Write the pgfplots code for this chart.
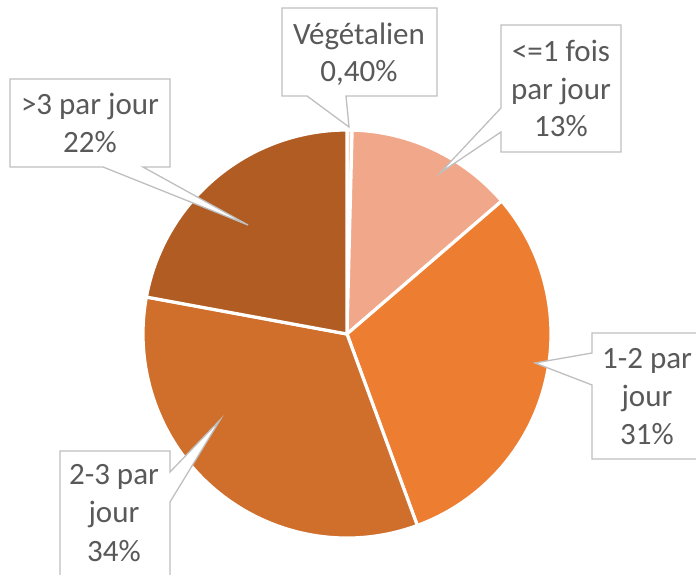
\documentclass[border=0pt]{standalone}
\usepackage{fontspec}
\setmainfont{Carlito}
\usepackage{pgfplots}
\usepackage{pgfplotstable}
\pgfplotsset{compat=1.18}
\definecolor{cveg}{HTML}{F8CFB8}
\definecolor{cle1}{HTML}{F1A88A}
\definecolor{conetwo}{HTML}{ED7D31}
\definecolor{ctwothree}{HTML}{D06E2C}
\definecolor{cgt3}{HTML}{B15C22}
\definecolor{txt}{HTML}{595959}
\definecolor{bord}{HTML}{BFBFBF}
\pgfplotstableread{
name value col
veg 0.4 cveg
le1 13.3 cle1
a12 30.7 conetwo
a23 33.5 ctwothree
gt3 22.1 cgt3
}\piedata
\begin{document}
\begin{tikzpicture}
\useasboundingbox (0,0) rectangle (696pt,575pt);
\clip (0,0) rectangle (696pt,575pt);
\begin{axis}[
  at={(0,0)}, anchor=south west,
  scale only axis, width=696pt, height=575pt,
  xmin=0, xmax=696, ymin=-575, ymax=0,
  enlargelimits=false, hide axis, clip=false,
]
\pgfplotsextra{
  \def\cum{0}
  \pgfplotsforeachungrouped \i in {0,...,4}{
    \pgfplotstablegetelem{\i}{value}\of\piedata \let\sval\pgfplotsretval
    \pgfplotstablegetelem{\i}{col}\of\piedata \let\slicecol\pgfplotsretval
    \pgfmathsetmacro\aS{90-3.6*\cum}
    \pgfmathsetmacro\cum{\cum+\sval}
    \pgfmathsetmacro\aE{90-3.6*\cum}
    \fill[fill=\slicecol, draw=white, line width=3.2pt, line join=round]
      (axis cs:347,-334) -- ++(\aS:204pt) arc[start angle=\aS, end angle=\aE, radius=204pt] -- cycle;
  }
  \begin{scope}[fill=white, draw=bord, line width=1.3pt, line join=miter]
  \filldraw (axis cs:282,-8) -- (axis cs:437,-8) -- (axis cs:437,-96) -- (axis cs:346,-96) -- (axis cs:349,-127) -- (axis cs:307,-96) -- (axis cs:282,-96) -- cycle;
  \filldraw (axis cs:501,-25) -- (axis cs:621,-25) -- (axis cs:621,-152) -- (axis cs:501,-152) -- (axis cs:501,-132) -- (axis cs:440,-173) -- (axis cs:501,-108) -- cycle;
  \filldraw (axis cs:10,-79) -- (axis cs:170,-79) -- (axis cs:170,-167) -- (axis cs:143,-167) -- (axis cs:248,-225) -- (axis cs:103,-167) -- (axis cs:10,-167) -- cycle;
  \filldraw (axis cs:592,-333) -- (axis cs:702,-333) -- (axis cs:702,-459) -- (axis cs:592,-459) -- (axis cs:592,-385) -- (axis cs:535,-363) -- (axis cs:592,-353) -- cycle;
  \filldraw (axis cs:60,-451) -- (axis cs:170,-451) -- (axis cs:170,-472) -- (axis cs:220,-420) -- (axis cs:170,-502) -- (axis cs:170,-600) -- (axis cs:60,-600) -- cycle;
  \end{scope}
  \begin{scope}[every node/.style={anchor=base, text=txt, font=\fontsize{31}{37}\selectfont, inner sep=0pt}]
  \node at (axis cs:359,-45) {Végétalien};
  \node at (axis cs:359,-82) {0,40\%};
  \node at (axis cs:561,-62) {<=1 fois};
  \node at (axis cs:561,-100) {par jour};
  \node at (axis cs:561,-137) {13\%};
  \node at (axis cs:90,-115) {>3 par jour};
  \node at (axis cs:90,-153) {22\%};
  \node at (axis cs:647,-369) {1-2 par};
  \node at (axis cs:647,-407) {jour};
  \node at (axis cs:647,-445) {31\%};
  \node at (axis cs:114,-485) {2-3 par};
  \node at (axis cs:114,-523) {jour};
  \node at (axis cs:114,-562) {34\%};
  \end{scope}
}
\end{axis}
\end{tikzpicture}
\end{document}
